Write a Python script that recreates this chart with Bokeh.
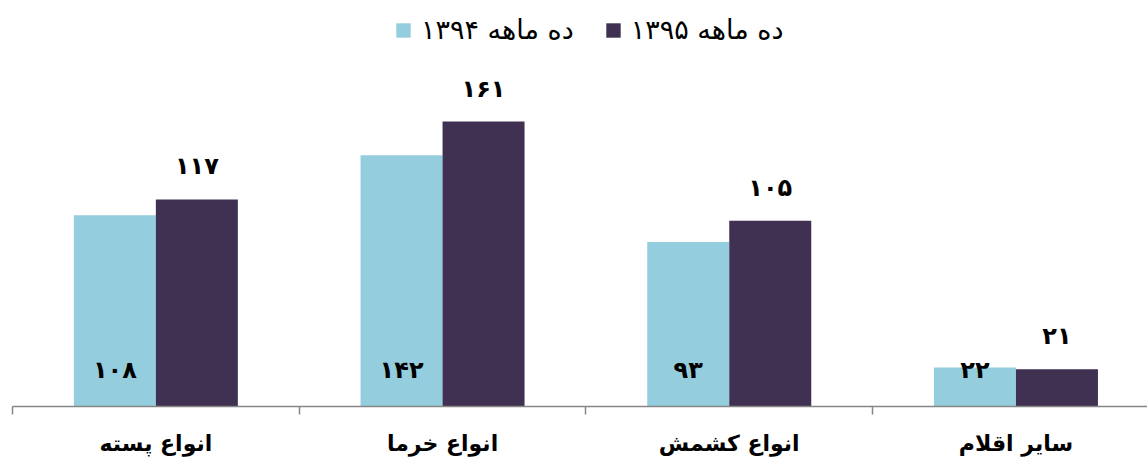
import numpy as np
from bokeh.plotting import figure
from bokeh.models import ColumnDataSource, Range1d, FixedTicker, Legend, LegendItem
from bokeh.core.properties import value
from bokeh.embed import file_html
from bokeh.resources import INLINE

categories = ["انواع پسته", "انواع خرما", "انواع کشمش", "سایر اقلام"]
series_names = ["ده ماهه ۱۳۹۴", "ده ماهه ۱۳۹۵"]
values_1394 = [108, 142, 93, 22]
values_1395 = [117, 161, 105, 21]

LIGHT = "#94cddd"
DARK = "#403152"
FONT = "DejaVu Sans"

FA = str.maketrans("0123456789", "۰۱۲۳۴۵۶۷۸۹")


def fa(n):
    return str(n).translate(FA)


centers = np.arange(len(categories)) + 0.5
bw = 0.286

src = ColumnDataSource(dict(
    x1=centers - bw / 2, x2=centers + bw / 2,
    v1=values_1394, v2=values_1395,
    l1=[fa(v) for v in values_1394], l2=[fa(v) for v in values_1395],
    zero=[0] * len(categories),
))

p = figure(frame_width=1135, frame_height=398, output_backend="svg", toolbar_location=None,
           x_range=Range1d(0, 1135 / 286.7), y_range=Range1d(0, 398 / 1.77),
           min_border_left=12, min_border_right=0, min_border_top=8, min_border_bottom=0)

p.outline_line_color = None
p.xgrid.grid_line_color = None
p.ygrid.grid_line_color = None
p.yaxis.visible = False

r1 = p.vbar(x="x1", top="v1", width=bw, source=src, fill_color=LIGHT, line_color=None)
r2 = p.vbar(x="x2", top="v2", width=bw, source=src, fill_color=DARK, line_color=None)

p.text(x="x1", y="zero", text="l1", source=src, y_offset=-37,
       text_align="center", text_baseline="middle", text_font=value(FONT),
       text_font_style="bold", text_font_size="24px", text_color="black")
p.text(x="x2", y="v2", text="l2", source=src, y_offset=-33,
       text_align="center", text_baseline="middle", text_font=value(FONT),
       text_font_style="bold", text_font_size="24px", text_color="black")

ax = p.xaxis[0]
ax.ticker = FixedTicker(ticks=list(centers), minor_ticks=list(range(len(categories) + 1)))
ax.major_label_overrides = {float(c): cat for c, cat in zip(centers, categories)}
ax.axis_line_color = "#868686"
ax.axis_line_width = 1.5
ax.major_tick_line_color = None
ax.major_tick_out = 0
ax.major_tick_in = 0
ax.minor_tick_line_color = "#868686"
ax.minor_tick_line_width = 1.5
ax.minor_tick_out = 8
ax.minor_tick_in = 0
ax.major_label_standoff = 16
ax.major_label_text_font = FONT
ax.major_label_text_font_style = "bold"
ax.major_label_text_font_size = "22px"
ax.major_label_text_color = "black"

legend = Legend(items=[LegendItem(label=series_names[0], renderers=[r1]),
                       LegendItem(label=series_names[1], renderers=[r2])],
                orientation="horizontal", location=(382, 361),
                padding=0, margin=0, spacing=30, label_standoff=9,
                glyph_width=18, glyph_height=18,
                label_text_font=FONT, label_text_font_size="27px",
                label_text_color="black", border_line_color=None,
                background_fill_alpha=0)
p.add_layout(legend)

open("out.html", "w").write(file_html(p, INLINE))
